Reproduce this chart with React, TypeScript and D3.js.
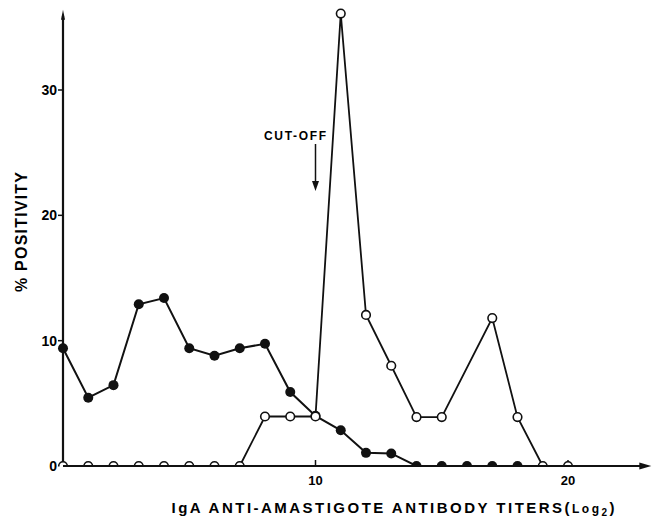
import React, { useEffect, useRef } from "react";
import * as d3 from "d3";

// titer (log2) positions and % positivity
const filledTiters = [0, 1, 2, 3, 4, 5, 6, 7, 8, 9, 10, 11, 12, 13, 14, 15, 16, 17, 18];
const filledValues = [9.4, 5.45, 6.45, 12.9, 13.4, 9.4, 8.8, 9.4, 9.75, 5.9, 4.0, 2.85, 1.05, 1.0, 0, 0, 0, 0, 0];

const openTiters = [0, 1, 2, 3, 4, 5, 6, 7, 8, 9, 10, 11, 12, 13, 14, 15, 17, 18, 19, 20];
const openValues = [0, 0, 0, 0, 0, 0, 0, 0, 3.95, 3.95, 3.95, 36.1, 12.05, 8.0, 3.9, 3.9, 11.8, 3.9, 0, 0];

const xTicks = [10, 20];
const yTicks = [0, 10, 20, 30];
const cutOff = 10;

const App = () => {
  const chartRef = useRef<SVGSVGElement | null>(null);

  useEffect(() => {
    document.body.style.margin = "0";
    const svg = d3.select(chartRef.current);
    svg.selectAll("*").remove();

    const x = d3.scaleLinear().domain([0, 20]).range([63, 568]);
    const y = d3.scaleLinear().domain([0, 30]).range([466, 90]);
    const xEnd = 23.3;
    const yEnd = 36.4;
    const font = "'Liberation Sans', Arial, sans-serif";

    // markers sitting on the baseline only show their upper half
    svg.append("defs")
      .append("clipPath")
      .attr("id", "above-axis")
      .append("rect")
      .attr("x", 0).attr("y", 0)
      .attr("width", 653).attr("height", y(0) + 0.5);

    const g = svg.append("g");

    // axes
    g.append("line")
      .attr("x1", x(0)).attr("x2", x(xEnd) - 6)
      .attr("y1", y(0)).attr("y2", y(0))
      .attr("stroke", "#111").attr("stroke-width", 2.2);
    g.append("path")
      .attr("d", `M${x(xEnd)},${y(0)} l-12,-3.5 l0,7 Z`)
      .attr("fill", "#111");
    g.append("line")
      .attr("x1", x(0)).attr("x2", x(0))
      .attr("y1", y(0)).attr("y2", y(yEnd) + 6)
      .attr("stroke", "#111").attr("stroke-width", 2.2);
    g.append("path")
      .attr("d", `M${x(0)},${y(yEnd)} l-2,10 l4,0 Z`)
      .attr("fill", "#111");

    // y ticks
    yTicks.filter((t) => t > 0).forEach((t) => {
      g.append("line")
        .attr("x1", x(0) - 5).attr("x2", x(0))
        .attr("y1", y(t)).attr("y2", y(t))
        .attr("stroke", "#111").attr("stroke-width", 1.5);
    });
    g.selectAll(".ylab")
      .data(yTicks)
      .enter()
      .append("text")
      .attr("x", x(0) - 6)
      .attr("y", (d) => y(d) + 5)
      .attr("text-anchor", "end")
      .style("font-family", font)
      .style("font-weight", "bold")
      .style("font-size", "14px")
      .text((d) => d);

    // x ticks
    xTicks.forEach((t) => {
      g.append("line")
        .attr("x1", x(t)).attr("x2", x(t))
        .attr("y1", y(0)).attr("y2", y(0) - 6)
        .attr("stroke", "#111").attr("stroke-width", 1.5);
    });
    g.selectAll(".xlab")
      .data(xTicks)
      .enter()
      .append("text")
      .attr("x", (d) => x(d))
      .attr("y", y(0) + 19)
      .attr("text-anchor", "middle")
      .style("font-family", font)
      .style("font-weight", "bold")
      .style("font-size", "13px")
      .text((d) => d);

    // axis titles
    const xt = g.append("text")
      .attr("x", 393)
      .attr("y", 513)
      .attr("text-anchor", "middle")
      .attr("textLength", 443)
      .attr("lengthAdjust", "spacing")
      .style("font-family", font)
      .style("font-weight", "bold")
      .style("font-size", "15px");
    xt.append("tspan").text("IgA ANTI-AMASTIGOTE ANTIBODY TITERS(");
    xt.append("tspan").style("font-size", "12px").text("Log");
    xt.append("tspan").style("font-size", "10px").attr("dy", 3).text("2");
    xt.append("tspan").attr("dy", -3).text(")");

    g.append("text")
      .attr("transform", "translate(27,232) rotate(-90)")
      .attr("text-anchor", "middle")
      .attr("textLength", 120)
      .attr("lengthAdjust", "spacing")
      .style("font-family", font)
      .style("font-weight", "bold")
      .style("font-size", "16px")
      .text("% POSITIVITY");

    // cut-off marker
    g.append("text")
      .attr("x", 295)
      .attr("y", 140)
      .attr("text-anchor", "middle")
      .attr("textLength", 62)
      .attr("lengthAdjust", "spacing")
      .style("font-family", font)
      .style("font-weight", "bold")
      .style("font-size", "12px")
      .text("CUT-OFF");
    g.append("line")
      .attr("x1", x(cutOff)).attr("x2", x(cutOff))
      .attr("y1", 144).attr("y2", 182)
      .attr("stroke", "#111").attr("stroke-width", 1.5);
    g.append("path")
      .attr("d", `M${x(cutOff)},191 l-3.5,-10 l7,0 Z`)
      .attr("fill", "#111");

    const line = d3.line<[number, number]>()
      .x((d) => x(d[0]))
      .y((d) => y(d[1]));

    const filled: [number, number][] = filledTiters.map((t, i) => [t, filledValues[i]]);
    const open: [number, number][] = openTiters.map((t, i) => [t, openValues[i]]);

    g.append("path")
      .datum(open)
      .attr("d", line)
      .attr("fill", "none")
      .attr("stroke", "#111")
      .attr("stroke-width", 1.8);
    g.append("path")
      .datum(filled)
      .attr("d", line)
      .attr("fill", "none")
      .attr("stroke", "#111")
      .attr("stroke-width", 2);

    const marks = g.append("g").attr("clip-path", "url(#above-axis)");

    marks.selectAll(".filled")
      .data(filled)
      .enter()
      .append("circle")
      .attr("cx", (d) => x(d[0]))
      .attr("cy", (d) => y(d[1]))
      .attr("r", 5)
      .attr("fill", "#111");

    marks.selectAll(".open")
      .data(open)
      .enter()
      .append("circle")
      .attr("cx", (d) => x(d[0]))
      .attr("cy", (d) => y(d[1]))
      .attr("r", 4.3)
      .attr("fill", "#fff")
      .attr("stroke", "#111")
      .attr("stroke-width", 1.6);

    // redraw the baseline over the half-hidden markers
    g.append("line")
      .attr("x1", x(0)).attr("x2", x(xEnd) - 6)
      .attr("y1", y(0)).attr("y2", y(0))
      .attr("stroke", "#111").attr("stroke-width", 2.2);
  }, []);

  return (
    <svg
      ref={chartRef}
      width={653}
      height={520}
      style={{ position: "absolute", left: 0, top: 0, background: "#fff" }}
    />
  );
};

export default App;
